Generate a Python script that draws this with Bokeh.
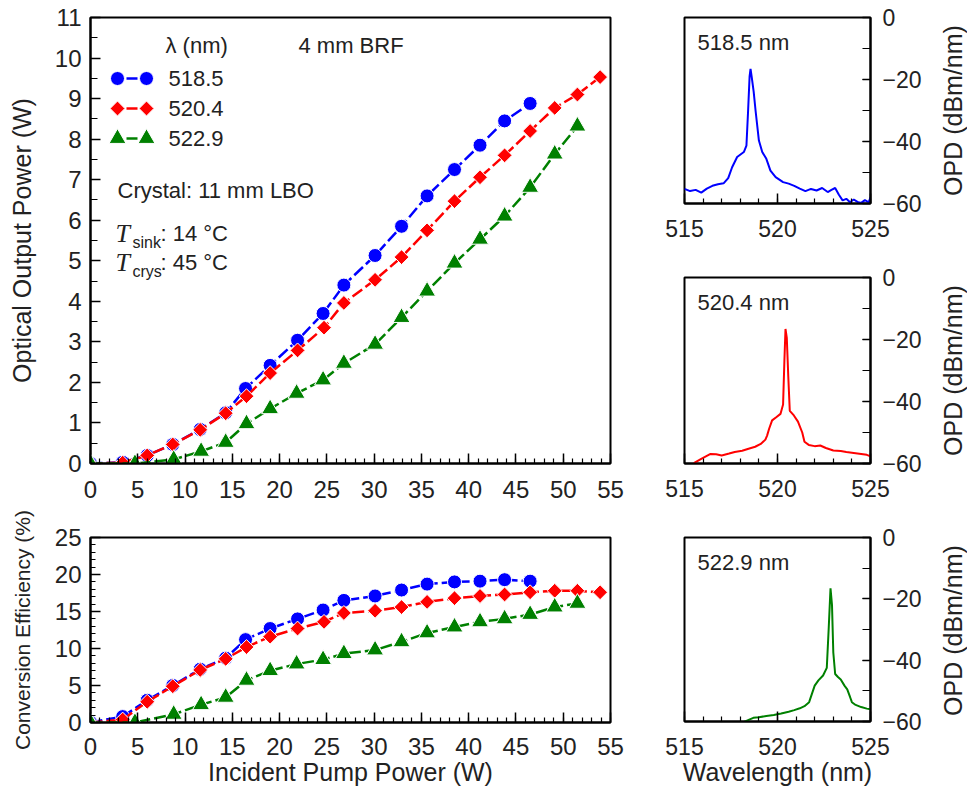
import numpy as np
from bokeh.plotting import figure
from bokeh.models import Range1d, FixedTicker, Label
from bokeh.layouts import row, column
from bokeh.embed import file_html
from bokeh.resources import INLINE
from bokeh.core.properties import value

# ---------------- data ----------------
pump_blue = [0, 3.4, 6.0, 8.7, 11.6, 14.3, 16.4, 19.0, 21.9, 24.6, 26.8, 30.1, 32.9, 35.6, 38.5, 41.2, 43.8, 46.5]
power_blue = [0, 0.03, 0.2, 0.47, 0.84, 1.25, 1.85, 2.42, 3.04, 3.7, 4.4, 5.13, 5.85, 6.6, 7.25, 7.85, 8.45, 8.88]
eff_blue = [0, 0.8, 3.0, 5.0, 7.2, 8.7, 11.2, 12.7, 14.0, 15.2, 16.5, 17.1, 17.9, 18.7, 19.0, 19.1, 19.3, 19.1]

pump_red = [0, 3.4, 6.0, 8.7, 11.6, 14.3, 16.5, 19.0, 21.9, 24.7, 26.8, 30.1, 32.9, 35.6, 38.5, 41.2, 43.8, 46.5, 49.1, 51.5, 53.9]
power_red = [0, 0.02, 0.2, 0.47, 0.83, 1.24, 1.66, 2.23, 2.79, 3.35, 3.96, 4.53, 5.09, 5.75, 6.47, 7.06, 7.6, 8.2, 8.77, 9.1, 9.53]
eff_red = [0, 0.4, 2.8, 4.9, 7.1, 8.6, 10.2, 11.6, 12.7, 13.6, 14.8, 15.1, 15.6, 16.3, 16.8, 17.1, 17.3, 17.6, 17.8, 17.8, 17.6]

pump_green = [0, 4.7, 8.8, 11.7, 14.3, 16.5, 19.0, 21.8, 24.6, 26.8, 30.1, 32.9, 35.6, 38.5, 41.2, 43.8, 46.5, 49.1, 51.5]
power_green = [0, 0, 0.1, 0.3, 0.52, 0.98, 1.35, 1.73, 2.06, 2.47, 2.94, 3.6, 4.25, 4.94, 5.53, 6.1, 6.81, 7.63, 8.32]
eff_green = [0, 0, 1.1, 2.4, 3.4, 5.7, 7.0, 7.9, 8.5, 9.3, 9.8, 10.9, 12.1, 12.9, 13.6, 14.0, 14.6, 15.6, 16.1]

series_labels = ["518.5", "520.4", "522.9"]

spec_blue_wl = [515.0, 515.3, 515.6, 515.9, 516.2, 516.5, 516.8, 517.1, 517.35, 517.56, 517.83, 518.19, 518.33,
                518.42, 518.5, 518.55, 518.62, 518.72, 518.82, 519.0, 519.18, 519.4, 519.62, 519.9, 520.3, 520.6,
                520.9, 521.2, 521.5, 521.8, 522.1, 522.4, 522.7, 522.9, 523.1, 523.3, 523.5, 523.7, 523.9, 524.1,
                524.3, 524.5, 524.7, 524.9, 525.0]
spec_blue_db = [-55.3, -56.0, -55.6, -56.5, -55.2, -54.3, -53.8, -53.5, -51.8, -48.3, -45.0, -43.4, -41.3,
                -30.0, -19.0, -16.6, -19.5, -24.0, -30.0, -39.7, -43.4, -45.6, -49.4, -51.5, -53.1, -53.6,
                -54.3, -55.2, -56.0, -55.3, -55.8, -55.0, -56.3, -55.6, -55.0, -57.2, -59.0, -58.5, -59.6, -58.7,
                -59.5, -59.8, -58.9, -59.6, -58.0]

spec_red_wl = [515.5, 515.9, 516.4, 516.7, 517.0, 517.4, 517.7, 518.1, 518.4, 518.8, 519.1, 519.35, 519.44,
               519.55, 519.71, 519.95, 520.16, 520.3, 520.37, 520.43, 520.5, 520.58, 520.66, 520.88, 521.1,
               521.33, 521.45, 521.68, 522.0, 522.3, 522.6, 523.0, 523.4, 523.7, 524.1, 524.5, 524.8, 525.0]
spec_red_db = [-59.9, -58.5, -56.9, -57.0, -57.4, -56.8, -56.3, -55.9, -55.3, -54.6, -53.7, -52.3, -51.0,
               -48.8, -46.1, -45.0, -44.0, -41.0, -27.0, -16.6, -19.5, -32.0, -43.0, -44.5, -46.5,
               -50.0, -53.0, -54.0, -54.4, -54.2, -55.0, -55.8, -56.0, -56.3, -56.6, -56.9, -57.2, -57.7]

spec_green_wl = [518.2, 518.7, 519.0, 519.4, 519.8, 520.2, 520.6, 520.9, 521.2, 521.45, 521.7, 521.85, 522.0,
                 522.2, 522.45, 522.65, 522.75, 522.85, 522.93, 523.0, 523.1, 523.25, 523.4, 523.6, 523.75,
                 523.9, 524.0, 524.2, 524.5, 524.8, 525.0]
spec_green_db = [-60.1, -58.8, -58.6, -58.2, -57.9, -57.4, -56.8, -56.3, -55.7, -55.0, -53.7, -51.0, -48.3,
                 -46.6, -45.0, -42.5, -30.0, -16.6, -22.0, -37.5, -44.5, -45.5, -46.3, -48.3, -49.5,
                 -52.0, -53.7, -54.6, -55.3, -55.8, -56.0]

# ---------------- style helpers ----------------
FONT = "Liberation Sans"
TXT = "#222222"
BLUE, RED, GREEN = "#0000ff", "#ff0000", "#008000"
DASH = "12 4"
MARK = {"circle": dict(marker="circle", size=14, angle=0),
        "diamond": dict(marker="square", size=10.5, angle=np.pi / 4),
        "triangle": dict(marker="triangle", size=17, angle=0)}


def style_axis(ax, label_size="24px", title_size="25px"):
    ax.axis_line_width = 2
    ax.axis_line_color = "black"
    ax.major_tick_in = 10
    ax.major_tick_out = 0
    ax.minor_tick_in = 5
    ax.minor_tick_out = 0
    ax.major_tick_line_width = 1.5
    ax.minor_tick_line_width = 1.2
    ax.major_label_text_font = FONT
    ax.major_label_text_font_size = label_size
    ax.major_label_text_color = TXT
    ax.axis_label_text_font = FONT
    ax.axis_label_text_font_size = title_size
    ax.axis_label_text_font_style = "normal"
    ax.axis_label_text_color = TXT


def base_fig(w, h, xr, yr, bl, br, bt, bb, yloc="left"):
    p = figure(width=w, height=h, x_range=Range1d(*xr), y_range=Range1d(*yr),
               output_backend="svg", toolbar_location=None, y_axis_location=yloc,
               min_border_left=bl, min_border_right=br, min_border_top=bt, min_border_bottom=bb)
    p.grid.visible = False
    p.outline_line_color = "black"
    p.outline_line_width = 2
    p.outline_line_alpha = 1
    p.background_fill_color = "white"
    p.border_fill_color = "white"
    return p


def draw_series(p, xs, ys, color, kind):
    p.line(xs, ys, line_color=color, line_width=2.5, line_dash=DASH)
    p.scatter(xs, ys, fill_color=color, line_color="white", line_width=1, **MARK[kind])


# ---------------- top-left: output power ----------------
pt = base_fig(640, 509, (0, 55), (0, 11), 90, 30, 17, 46)
pt.xaxis.ticker = FixedTicker(ticks=list(range(0, 56, 5)), minor_ticks=list(range(0, 56)))
pt.yaxis.ticker = FixedTicker(ticks=list(range(0, 12)), minor_ticks=[i + 0.5 for i in range(11)])
for ax in pt.xaxis:
    style_axis(ax)
    ax.major_label_standoff = 17
for ax in pt.yaxis:
    style_axis(ax)
    ax.minor_tick_in = 7
    ax.major_label_standoff = 9
    ax.axis_label = "Optical Output Power (W)"
    ax.axis_label_standoff = 16

draw_series(pt, pump_blue, power_blue, BLUE, "circle")
draw_series(pt, pump_red, power_red, RED, "diamond")
draw_series(pt, pump_green, power_green, GREEN, "triangle")


def px2x(px):
    return (px - 90) / (520 / 55)


def px2y(py):
    return (463 - py) / (446 / 11)


def add_label(p, x, y, text, size="22px", font=FONT, style="normal", align="left", xo=0, yo=0):
    p.add_layout(Label(x=x, y=y, text=text, text_font=font, text_font_size=size, text_font_style=style,
                       text_color=TXT, text_align=align, text_baseline="middle", x_offset=xo, y_offset=yo))


# legend and notes
add_label(pt, px2x(165), px2y(45), "λ (nm)")
add_label(pt, px2x(298), px2y(45), "4 mm BRF")
leg_colors = [BLUE, RED, GREEN]
leg_kinds = ["circle", "diamond", "triangle"]
leg_y = [px2y(78), px2y(108), px2y(138)]
for c, k, yy, lab in zip(leg_colors, leg_kinds, leg_y, series_labels):
    pt.segment(x0=[px2x(126)], y0=[yy], x1=[px2x(137)], y1=[yy], line_color=c, line_width=2.5)
    pt.scatter([px2x(117), px2x(146)], [yy, yy], fill_color=c, line_color="white", line_width=1, **MARK[k])
    add_label(pt, px2x(168), yy, lab)

add_label(pt, px2x(117), px2y(190), "Crystal: 11 mm LBO")
for yy, sub, val in [(px2y(233), "sink", ": 14 °C"), (px2y(262), "crys", ": 45 °C")]:
    add_label(pt, px2x(115), yy, "T", size="26px", font="Liberation Serif", style="italic")
    add_label(pt, px2x(115), yy, sub, size="16px", xo=17, yo=-9)
    add_label(pt, px2x(115), yy, val, xo=45)

# ---------------- bottom-left: efficiency ----------------
pb = base_fig(640, 279, (0, 55), (0, 25), 90, 30, 28, 65)
pb.xaxis.ticker = FixedTicker(ticks=list(range(0, 56, 5)), minor_ticks=list(range(0, 56)))
pb.yaxis.ticker = FixedTicker(ticks=list(range(0, 26, 5)), minor_ticks=list(range(0, 26)))
for ax in pb.xaxis:
    style_axis(ax)
    ax.major_label_standoff = 15
    ax.axis_label = "Incident Pump Power (W)"
    ax.axis_label_standoff = 0
for ax in pb.yaxis:
    style_axis(ax, title_size="21px")
    ax.major_label_standoff = 9
    ax.axis_label = "Conversion Efficiency (%)"
    ax.axis_label_standoff = 18

draw_series(pb, pump_blue, eff_blue, BLUE, "circle")
draw_series(pb, pump_red, eff_red, RED, "diamond")
draw_series(pb, pump_green, eff_green, GREEN, "triangle")


# ---------------- spectra ----------------
def spec_fig(h, bt, bb, wl, db, color, tag, xlabel=None):
    s = base_fig(297, h, (515, 525), (-60, 0), 44, 67, bt, bb, yloc="right")
    s.xaxis.ticker = FixedTicker(ticks=[515, 520, 525], minor_ticks=list(range(515, 526)))
    s.yaxis.ticker = FixedTicker(ticks=[-60, -40, -20, 0], minor_ticks=[-60, -50, -40, -30, -20, -10, 0])
    for ax in s.xaxis:
        style_axis(ax, label_size="23px")
        ax.major_label_standoff = 16
        if xlabel:
            ax.axis_label = xlabel
            ax.axis_label_standoff = 0
    for ax in s.yaxis:
        style_axis(ax, label_size="23px")
        ax.major_tick_in = 8
        ax.minor_tick_in = 8
        ax.major_label_standoff = 12
        ax.major_label_overrides = {0: "0", -20: "−20", -40: "−40", -60: "−60"}
    s.line(wl, db, line_color=color, line_width=2)
    s.add_layout(Label(x=515.7, y=-8, text=tag, text_font=FONT, text_font_size="22px", text_color=TXT,
                       text_align="left", text_baseline="middle"))
    return s


def side_title(h, bt, bb, text):
    t = figure(width=30, height=h, x_range=Range1d(-1, 1), y_range=Range1d(-1, 1),
               output_backend="svg", toolbar_location=None, x_axis_location=None, y_axis_location=None,
               min_border_left=0, min_border_right=0, min_border_top=bt, min_border_bottom=bb)
    t.grid.visible = False
    t.outline_line_color = None
    t.text(x=[0], y=[0], text=[text], angle=np.pi / 2, text_align="center", text_baseline="middle",
           text_font=value(FONT), text_font_size="25px", text_color=TXT)
    return t


s1 = spec_fig(245, 17, 42, spec_blue_wl, spec_blue_db, BLUE, "518.5 nm")
s2 = spec_fig(264, 32, 46, spec_red_wl, spec_red_db, RED, "520.4 nm")
s3 = spec_fig(279, 28, 65, spec_green_wl, spec_green_db, GREEN, "522.9 nm", xlabel="Wavelength (nm)")
t1 = side_title(245, 17, 42, "OPD (dBm/nm)")
t2 = side_title(264, 32, 46, "OPD (dBm/nm)")
t3 = side_title(279, 28, 65, "OPD (dBm/nm)")

layout = row(column(pt, pb), column(s1, s2, s3), column(t1, t2, t3))

with open("out.html", "w") as f:
    f.write(file_html(layout, INLINE))
